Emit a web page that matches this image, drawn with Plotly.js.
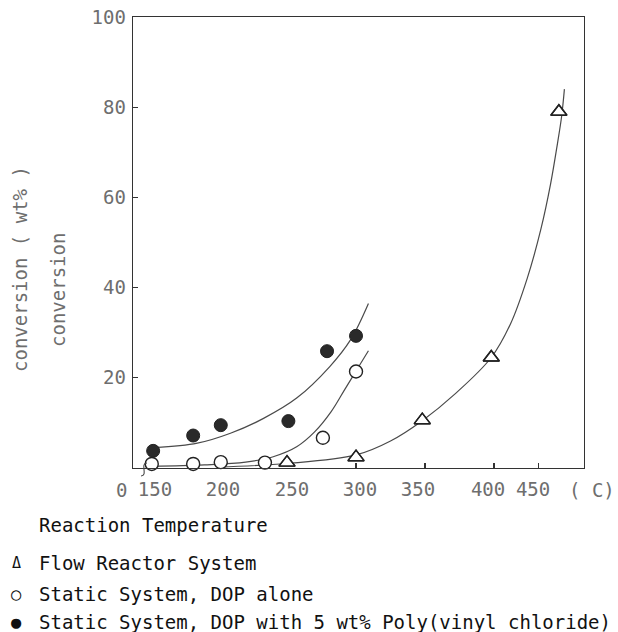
<!DOCTYPE html>
<html>
<head>
<meta charset="utf-8">
<script src="https://cdn.plot.ly/plotly-3.0.1.min.js"></script>
<style>html,body{margin:0;padding:0;background:#fff;}#chart{width:618px;height:632px;}</style>
</head>
<body>
<div id="chart"></div>
<script>
// ---- data ----
const flowT   = [250, 300, 348, 398, 447];
const flowV   = [1.2, 2.4, 10.6, 24.5, 79.0];
const dopT    = [152, 182, 202, 234, 276, 300];
const dopV    = [0.9, 0.9, 1.3, 1.2, 6.7, 21.4];
const pvcT    = [153, 182, 202, 251, 279, 300];
const pvcV    = [3.8, 7.2, 9.5, 10.4, 25.9, 29.3];

// fitted curves
const flowCurveT = [200, 250, 300, 325, 348, 372, 398, 412, 424, 434, 441, 446, 449, 451];
const flowCurveV = [0.2, 1.0, 2.9, 6.0, 10.5, 16.5, 24.5, 32, 42, 53, 63, 72, 78, 84];
const dopCurveT  = [152, 190, 220, 240, 257, 270, 282, 292, 300, 309];
const dopCurveV  = [0.4, 0.7, 1.3, 2.5, 4.7, 8.0, 12.5, 17.5, 21.5, 26.0];
const pvcCurveT  = [154, 185, 209, 233, 257, 281, 296, 309];
const pvcCurveV  = [4.5, 5.5, 7.7, 11.0, 15.5, 22.5, 28.4, 36.5];

// axis ticks
const xTickLabelPos = [154.3, 203.6, 253.6, 302.9, 344.9, 395.7, 428.3];
const xTickText     = ['150', '200', '250', '300', '350', '400', '450'];
const xTickMarkPos  = [300, 350, 400, 432];
const yTickVals     = [20, 40, 60, 80, 100];
const yTickText     = ['20', '40', '60', '80', '100'];

const legendSymbols = ['\u0394', '\u25CB', '\u25CF'];
const legendTexts = ['Flow Reactor System', 'Static System, DOP alone', 'Static System, DOP with 5 wt% Poly(vinyl chloride)'];

const FONT = 'DejaVu Sans Mono, monospace';
const GRAY = '#6e6e6e';
const LINE = '#4a4a4a';
const MK = '#222';

const traces = [
  {x: pvcCurveT, y: pvcCurveV, mode: 'lines', line: {color: LINE, width: 1.2, shape: 'spline', smoothing: 1}, hoverinfo: 'skip'},
  {x: dopCurveT, y: dopCurveV, mode: 'lines', line: {color: LINE, width: 1.2, shape: 'spline', smoothing: 1}, hoverinfo: 'skip'},
  {x: flowCurveT, y: flowCurveV, mode: 'lines', line: {color: LINE, width: 1.2, shape: 'spline', smoothing: 1}, hoverinfo: 'skip'},
  {x: flowT, y: flowV, mode: 'markers', name: legendTexts[0],
   marker: {symbol: 'triangle-up', size: 14, color: '#fff', line: {color: MK, width: 1.4}}},
  {x: dopT, y: dopV, mode: 'markers', name: legendTexts[1],
   marker: {symbol: 'circle', size: 13, color: '#fff', line: {color: MK, width: 1.4}}},
  {x: pvcT, y: pvcV, mode: 'markers', name: legendTexts[2],
   marker: {symbol: 'circle', size: 13, color: '#2a2a2a', line: {color: MK, width: 1}}},
  {x: flowT, y: flowV, xaxis: 'x2', mode: 'markers', hoverinfo: 'skip',
   marker: {symbol: 'triangle-up', size: 14, color: 'rgba(0,0,0,0)', line: {color: MK, width: 1.4}}}
];
traces.forEach(t => { t.showlegend = false; t.cliponaxis = false; });

const H = 632, W = 618, L = 133, R = 34, T = 17, B = 164;
const pw = W - L - R, ph = H - T - B;
const px = v => (v - L) / pw;
const py = v => (H - B - v) / ph;

function ann(text, x, y, opts) {
  return Object.assign({text: text, x: px(x), y: py(y), xref: 'paper', yref: 'paper',
    xanchor: 'center', yanchor: 'middle', showarrow: false}, opts);
}

const annotations = [
  ann('0', 121, 490, {font: {family: FONT, size: 19, color: GRAY}}),
  ann('( C)', 617, 490, {xanchor: 'right', font: {family: FONT, size: 19, color: GRAY}}),
  ann('Reaction Temperature', 37, 525, {xanchor: 'left', font: {family: FONT, size: 19, color: '#111'}}),
  ann('conversion ( wt% )', 20, 269, {textangle: -90, font: {family: FONT, size: 19, color: GRAY}}),
  ann('conversion', 58, 290, {textangle: -90, font: {family: FONT, size: 19, color: GRAY}})
];
const legY = [563, 594, 622];
legendTexts.forEach((t, i) => {
  annotations.push(ann(legendSymbols[i], 16, legY[i], {font: {family: FONT, size: i === 0 ? 15 : 17, color: '#111'}}));
  annotations.push(ann(t, 37, legY[i], {xanchor: 'left', font: {family: FONT, size: 19, color: '#111'}}));
});

// small axis-break squiggle near the origin
const bx = px(144), by0 = py(476), by1 = py(463), dx = 3 / pw;
const breakPath = `M ${bx - dx} ${by0} C ${bx + dx * 1.5} ${by0}, ${bx - dx * 1.5} ${by1}, ${bx + dx} ${by1}`;

const xr = [138.4, 465.2];
const layout = {
  width: W, height: H,
  margin: {l: L, r: R, t: T, b: B, pad: 0},
  paper_bgcolor: '#fff', plot_bgcolor: '#fff',
  showlegend: false,
  xaxis: {range: xr, tickvals: xTickMarkPos, showticklabels: false, ticks: 'inside', ticklen: 5, tickwidth: 1.3, tickcolor: '#333',
          showline: true, linecolor: '#333', linewidth: 1.3, mirror: true, showgrid: false, zeroline: false, fixedrange: true},
  xaxis2: {range: xr, overlaying: 'x', anchor: 'y', side: 'bottom', tickvals: xTickLabelPos, ticktext: xTickText, ticks: '',
           showline: false, showgrid: false, zeroline: false, ticklabelstandoff: 8,
           tickfont: {family: FONT, size: 19, color: GRAY}, fixedrange: true},
  yaxis: {range: [0, 100], tickvals: yTickVals, ticktext: yTickText, ticks: 'inside', ticklen: 5, tickwidth: 1.3, tickcolor: '#333',
          showline: true, linecolor: '#333', linewidth: 1.3, mirror: true, showgrid: false, zeroline: false,
          tickfont: {family: FONT, size: 19, color: GRAY}, ticklabelstandoff: 2, fixedrange: true},
  shapes: [{type: 'path', xref: 'paper', yref: 'paper', path: breakPath, line: {color: '#444', width: 1.1}, layer: 'above'}],
  annotations: annotations
};

Plotly.newPlot('chart', traces, layout, {displayModeBar: false, staticPlot: true});
</script>
</body>
</html>
